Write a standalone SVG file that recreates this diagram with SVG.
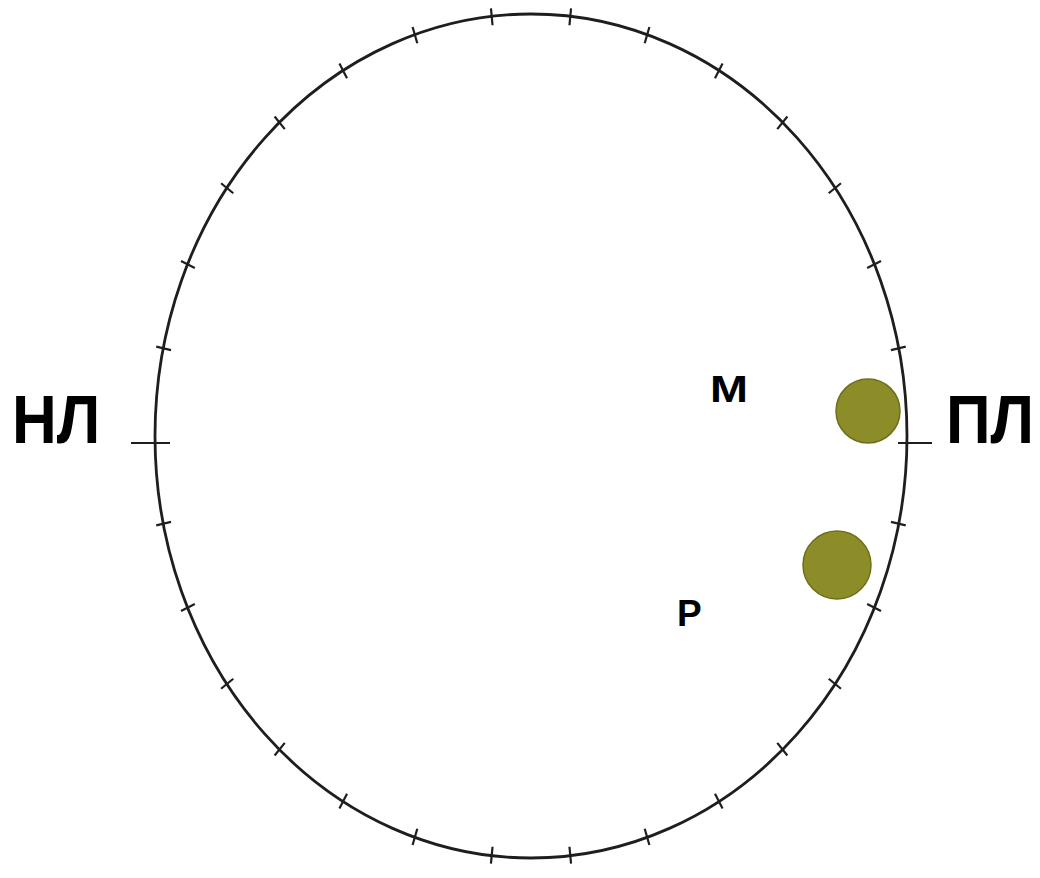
<svg xmlns="http://www.w3.org/2000/svg" width="1040" height="878" viewBox="0 0 1040 878">
<style>
.ring{fill:none;stroke:#1e1e1e;stroke-width:2.8}
.tick{stroke:#1e1e1e;stroke-width:2.2;vector-effect:non-scaling-stroke}
.dot{fill:#8c8c28;stroke:#6e6e1c;stroke-width:1.5}
.big{font-family:"Liberation Sans",Arial,sans-serif;font-weight:bold;font-size:62px;fill:#000}
.lbl{font-family:"Liberation Sans",Arial,sans-serif;font-weight:bold;font-size:37px;fill:#000}
</style>
<defs>
<line id="t" class="tick" x1="0" y1="-430" x2="0" y2="-413"/>
</defs>
<g id="circle">
<ellipse class="ring" cx="531" cy="436" rx="376" ry="422"/>
<g transform="translate(531,436) scale(0.891,1)">
<use href="#t" transform="rotate(6)"/><use href="#t" transform="rotate(18)"/><use href="#t" transform="rotate(30)"/><use href="#t" transform="rotate(42)"/><use href="#t" transform="rotate(54)"/><use href="#t" transform="rotate(66)"/><use href="#t" transform="rotate(78)"/>
<use href="#t" transform="rotate(102)"/><use href="#t" transform="rotate(114)"/><use href="#t" transform="rotate(126)"/><use href="#t" transform="rotate(138)"/><use href="#t" transform="rotate(150)"/><use href="#t" transform="rotate(162)"/><use href="#t" transform="rotate(174)"/>
<use href="#t" transform="rotate(186)"/><use href="#t" transform="rotate(198)"/><use href="#t" transform="rotate(210)"/><use href="#t" transform="rotate(222)"/><use href="#t" transform="rotate(234)"/><use href="#t" transform="rotate(246)"/><use href="#t" transform="rotate(258)"/>
<use href="#t" transform="rotate(282)"/><use href="#t" transform="rotate(294)"/><use href="#t" transform="rotate(306)"/><use href="#t" transform="rotate(318)"/><use href="#t" transform="rotate(330)"/><use href="#t" transform="rotate(342)"/><use href="#t" transform="rotate(354)"/>
</g>
<line class="tick" x1="131" y1="443" x2="170" y2="443"/>
<line class="tick" x1="898" y1="443" x2="932" y2="443"/>
</g>
<g id="M">
<circle class="dot" cx="868" cy="411" r="32"/>
<text class="lbl" x="710" y="402" textLength="38" lengthAdjust="spacingAndGlyphs">M</text>
</g>
<g id="P">
<circle class="dot" cx="837" cy="565" r="34"/>
<text class="lbl" x="677" y="626">P</text>
</g>
<g id="labels">
<text class="big" transform="translate(12,443) scale(1,1.1)">НЛ</text>
<text class="big" transform="translate(946,443) scale(1,1.1)">ПЛ</text>
</g>
</svg>
